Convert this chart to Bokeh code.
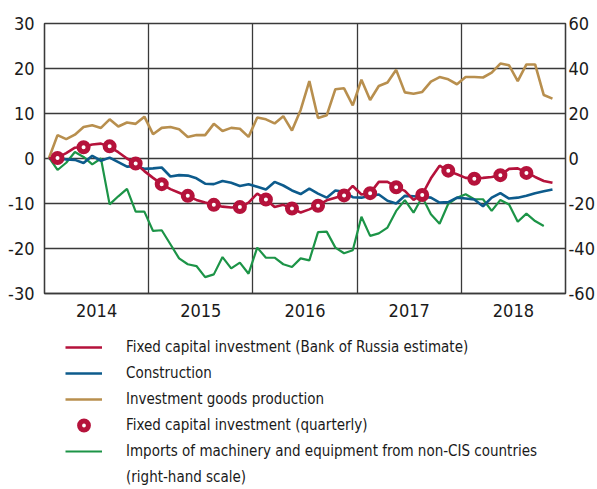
from bokeh.plotting import figure
from bokeh.models import Range1d, LinearAxis, FixedTicker, Legend, LegendItem
from bokeh.layouts import column
from bokeh.embed import file_html
from bokeh.resources import INLINE

# ---------------- data ----------------
start_year = 2014
year_labels = ["2014", "2015", "2016", "2017", "2018"]

# Fixed capital investment (Bank of Russia estimate), monthly, left scale
fci_monthly = [0.0, 0.2, 1.2, 2.4, 2.6, 3.1, 3.3, 2.6, 1.4, 0.0, -1.1, -2.8,
               -4.3, -5.7, -6.8, -7.6, -8.4, -9.2, -9.8, -10.3, -10.7, -10.9, -10.8, -9.8,
               -7.8, -9.1, -10.8, -10.3, -11.1, -12.0, -11.3, -10.4, -9.3, -8.7, -8.1, -6.1,
               -8.0, -7.7, -5.2, -5.2, -6.3, -7.2, -9.2, -8.0, -4.4, -1.6, -2.8, -3.5,
               -4.3, -4.4, -4.3, -4.1, -3.7, -2.3, -2.2, -3.1, -4.1, -5.0, -5.4]
# Construction, monthly, left scale
construction = [0.0, 0.0, -0.2, -0.3, -1.0, 0.6, -0.5, 0.2, -0.8, -1.8, -1.7, -2.3,
                -2.2, -2.0, -4.0, -3.7, -3.8, -4.4, -5.6, -5.7, -5.0, -5.4, -6.1, -5.7,
                -6.3, -6.9, -5.2, -6.0, -7.1, -7.9, -6.7, -7.8, -8.7, -7.1, -7.4, -8.6,
                -8.7, -8.3, -8.0, -9.4, -10.0, -8.3, -8.4, -8.5, -8.7, -9.8, -9.7, -8.7,
                -8.9, -9.1, -10.6, -8.7, -7.7, -8.9, -8.7, -8.3, -7.7, -7.3, -6.9]
# Investment goods production, monthly, left scale
invest_goods = [0.0, 5.2, 4.3, 5.3, 7.0, 7.4, 6.8, 8.7, 7.1, 8.0, 7.7, 9.3,
                5.4, 6.8, 7.0, 6.5, 4.8, 5.2, 5.2, 7.7, 6.1, 6.8, 6.6, 4.8,
                9.1, 8.7, 7.8, 9.4, 6.2, 10.8, 17.2, 9.0, 9.6, 15.4, 15.6, 11.8,
                17.5, 13.0, 16.1, 16.9, 19.7, 14.7, 14.4, 14.8, 17.1, 18.1, 17.6, 16.5,
                18.1, 18.1, 18.0, 19.1, 21.1, 20.7, 17.2, 20.9, 20.9, 14.1, 13.3]
# Fixed capital investment (quarterly), left scale
fci_quarterly = [0.1, 2.5, 2.7, -1.1, -5.7, -8.3, -10.3, -10.8, -9.1, -11.1,
                 -10.5, -8.2, -7.7, -6.4, -8.1, -2.7, -4.5, -3.7, -3.2]
# Imports of machinery and equipment from non-CIS countries, monthly, right scale
imports_nc = [0.5, -5.1, -1.9, 2.9, 0.7, -2.6, 0.0, -20.4, -16.8, -13.5, -23.6, -23.6,
              -32.2, -31.9, -38.1, -44.4, -47.0, -47.8, -52.7, -51.5, -43.8, -48.8, -46.3, -51.2,
              -39.6, -44.1, -44.1, -47.0, -48.2, -44.4, -45.3, -32.7, -32.5, -39.6, -42.1, -40.8,
              -25.9, -34.4, -33.3, -30.7, -23.3, -18.5, -24.1, -17.1, -24.8, -29.0, -20.1, -17.5,
              -15.9, -18.1, -18.1, -23.3, -18.4, -20.4, -28.1, -24.5, -27.8, -30.0]

left_ticks = [-30, -20, -10, 0, 10, 20, 30]
right_ticks = [-60, -40, -20, 0, 20, 40, 60]

legend_labels = [
    "Fixed capital investment (Bank of Russia estimate)",
    "Construction",
    "Investment goods production",
    "Fixed capital investment (quarterly)",
    "Imports of machinery and equipment from non-CIS countries",
    "(right-hand scale)",
]


def month_x(n):
    return [start_year + (i + 0.5) / 12 for i in range(n)]


def quarter_x(n):
    return [start_year + (3 * q + 1.5) / 12 for q in range(n)]


RED = "#B5123B"
BLUE = "#0D5B8C"
GOLD = "#B88F4E"
GREEN = "#1C9447"
GRID = "#3a3a3a"
FONT = "'Liberation Sans Narrow', 'DejaVu Sans Condensed', 'Arial Narrow', sans-serif"


def add_series(fig, y_right):
    rg = fig.line(month_x(len(imports_nc)), imports_nc, y_range_name=y_right,
                  line_color=GREEN, line_width=2.2)
    ro = fig.line(month_x(len(invest_goods)), invest_goods, line_color=GOLD, line_width=2.6)
    rb = fig.line(month_x(len(construction)), construction, line_color=BLUE, line_width=2.6)
    rr = fig.line(month_x(len(fci_monthly)), fci_monthly, line_color=RED, line_width=2.6)
    rq = fig.scatter(quarter_x(len(fci_quarterly)), fci_quarterly, marker="circle", size=9,
                     fill_color="white", line_color=RED, line_width=5)
    return rr, rb, ro, rq, rg


# ---------------- chart ----------------
p = figure(width=597, height=325, output_backend="svg", toolbar_location=None,
           x_range=Range1d(start_year, start_year + len(year_labels)),
           y_range=Range1d(-30, 30),
           min_border_left=44, min_border_right=32, min_border_top=23,
           min_border_bottom=32)
p.extra_y_ranges = {"right": Range1d(-60, 60)}
p.outline_line_color = GRID
p.outline_line_width = 1.3

mids = [start_year + k + 0.5 for k in range(len(year_labels))]
p.xaxis.ticker = FixedTicker(ticks=mids)
p.xaxis.major_label_overrides = {m: lab for m, lab in zip(mids, year_labels)}
p.yaxis.ticker = FixedTicker(ticks=left_ticks)
p.yaxis.major_label_overrides = {t: str(t) for t in left_ticks}

right_axis = LinearAxis(y_range_name="right", ticker=FixedTicker(ticks=right_ticks))
right_axis.major_label_overrides = {t: str(t) for t in right_ticks}
p.add_layout(right_axis, "right")

for ax in p.axis:
    ax.major_tick_in = 0
    ax.major_tick_out = 0
    ax.minor_tick_in = 0
    ax.minor_tick_out = 0
    ax.axis_line_color = GRID
    ax.axis_line_width = 1.3
    ax.major_label_text_font = FONT
    ax.major_label_text_font_size = "18px"
    ax.major_label_text_color = "#1a1a1a"
p.xaxis.major_label_standoff = 10
p.yaxis[0].major_label_standoff = 10
right_axis.major_label_standoff = 3

p.xgrid.ticker = FixedTicker(ticks=[start_year + k for k in range(1, len(year_labels))])
p.ygrid.ticker = FixedTicker(ticks=left_ticks)
for g in (p.xgrid, p.ygrid):
    g.grid_line_color = GRID
    g.grid_line_width = 1.3

add_series(p, "right")

# ---------------- legend panel ----------------
q = figure(width=597, height=164, output_backend="svg", toolbar_location=None,
           x_range=Range1d(0, 1), y_range=Range1d(1000, 1001),
           x_axis_location=None, y_axis_location=None,
           min_border=0)
q.extra_y_ranges = {"right": Range1d(1000, 1001)}
q.outline_line_color = None
q.xgrid.visible = False
q.ygrid.visible = False
lr, lb, lo, lq, lg = add_series(q, "right")
l_note = q.line(month_x(len(imports_nc)), imports_nc, line_alpha=0)

legend = Legend(items=[
    LegendItem(label=lab, renderers=[r])
    for lab, r in zip(legend_labels, [lr, lb, lo, lq, lg, l_note])
], location=(21, 1))
legend.label_text_font = FONT
legend.label_text_font_size = "15px"
legend.label_text_color = "#1a1a1a"
legend.glyph_width = 37
legend.glyph_height = 22
legend.label_standoff = 24
legend.label_height = 20
legend.spacing = 4
legend.padding = 0
legend.margin = 0
legend.border_line_alpha = 0
legend.background_fill_alpha = 0
q.add_layout(legend, "center")

layout = column(p, q, spacing=0)
open("out.html", "w").write(file_html(layout, INLINE))
